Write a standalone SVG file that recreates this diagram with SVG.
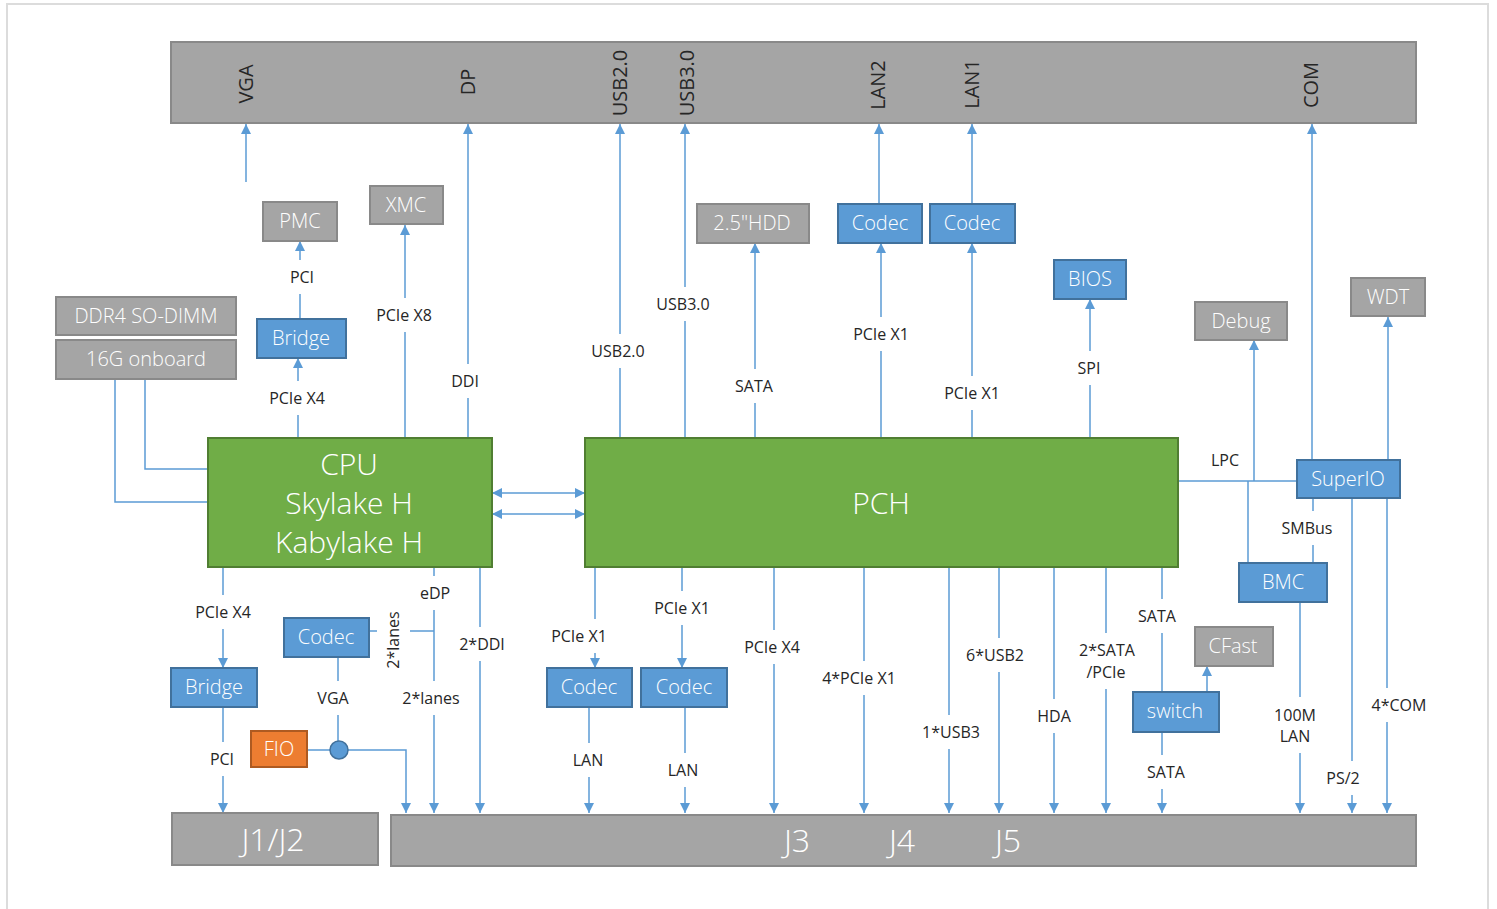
<svg xmlns="http://www.w3.org/2000/svg" width="1497" height="909" viewBox="0 0 1497 909">
<style>
.gray{fill:#a5a5a5;stroke:#898989;stroke-width:2}
.blue{fill:#5b9bd5;stroke:#41719c;stroke-width:2}
.green{fill:#70ad47;stroke:#507e32;stroke-width:2}
.orange{fill:#ed7d31;stroke:#ae5a21;stroke-width:2}
.bt{font-family:"Open Sans","Liberation Sans",sans-serif;font-weight:300;fill:#fff;text-anchor:middle;font-size:20px}
.big{font-size:30px}
.huge{font-size:32px}
.port{font-family:"Open Sans","Liberation Sans",sans-serif;font-size:20px;fill:#262626;text-anchor:middle}
.lbl{font-family:"Open Sans","Liberation Sans",sans-serif;font-size:16px;fill:#262626;text-anchor:middle}
.c{stroke:#5b9bd5;stroke-width:1.5;fill:none}
.a{marker-end:url(#ah)}
.bg{fill:#fff}
</style>
<defs>
<marker id="ah" viewBox="0 0 10 10" refX="10" refY="5" markerWidth="10" markerHeight="10" markerUnits="userSpaceOnUse" orient="auto-start-reverse"><path d="M0,0L10,5L0,10z" fill="#5b9bd5"/></marker>
</defs>
<rect x="7" y="4" width="1481" height="940" fill="none" stroke="#dcdcdc" stroke-width="2"/>

<g id="connectors">
<path class="c a" d="M246,182V124"/>
<path class="c a" d="M300,319V241"/>
<path class="c a" d="M298,438V358"/>
<path class="c a" d="M405,438V225"/>
<path class="c a" d="M468,438V124"/>
<path class="c" d="M115,379V502H208"/>
<path class="c" d="M145,379V469H208"/>
<path class="c a" d="M492,493H585" marker-start="url(#ah)"/>
<path class="c a" d="M492,514H585" marker-start="url(#ah)"/>
<path class="c a" d="M620,438V124"/>
<path class="c a" d="M685,438V124"/>
<path class="c a" d="M755,438V243"/>
<path class="c a" d="M881,438V243"/>
<path class="c a" d="M879,204V124"/>
<path class="c a" d="M972,438V243"/>
<path class="c a" d="M972,204V124"/>
<path class="c a" d="M1090,438V299"/>
<path class="c" d="M1178,481H1297"/>
<path class="c a" d="M1254,481V340"/>
<path class="c" d="M1248,481V563"/>
<path class="c a" d="M1312,460V124"/>
<path class="c a" d="M1388,460V317"/>
<path class="c" d="M1313,498V563"/>
<path class="c a" d="M1352,498V813"/>
<path class="c a" d="M1387,498V813"/>
<path class="c a" d="M1300,602V813"/>
<path class="c a" d="M223,567V668"/>
<path class="c a" d="M223,707V813"/>
<path class="c" d="M338,657V741"/>
<path class="c a" d="M307,750H406V813"/>
<path class="c" d="M369,631H434"/>
<path class="c a" d="M434,567V813"/>
<path class="c a" d="M480,567V813"/>
<path class="c a" d="M595,567V668"/>
<path class="c a" d="M682,567V668"/>
<path class="c a" d="M589,707V813"/>
<path class="c a" d="M685,707V813"/>
<path class="c a" d="M774,567V813"/>
<path class="c a" d="M864,567V813"/>
<path class="c a" d="M949,567V813"/>
<path class="c a" d="M999,567V813"/>
<path class="c a" d="M1054,567V813"/>
<path class="c a" d="M1106,567V813"/>
<path class="c" d="M1162,567V692"/>
<path class="c a" d="M1207,692V666"/>
<path class="c a" d="M1162,732V813"/>
<circle cx="339" cy="750" r="9" fill="#5b9bd5" stroke="#41719c" stroke-width="1.5"/>
</g>

<g id="labels">
<rect class="bg" x="286" y="260" width="32" height="34"/><text class="lbl" x="302" y="283">PCI</text>
<rect class="bg" x="267" y="381" width="60" height="34"/><text class="lbl" x="297" y="404">PCIe X4</text>
<rect class="bg" x="374" y="298" width="61" height="34"/><text class="lbl" x="404" y="321">PCIe X8</text>
<rect class="bg" x="449" y="364" width="32" height="34"/><text class="lbl" x="465" y="387">DDI</text>
<rect class="bg" x="590" y="334" width="56" height="34"/><text class="lbl" x="618" y="357">USB2.0</text>
<rect class="bg" x="655" y="287" width="56" height="34"/><text class="lbl" x="683" y="310">USB3.0</text>
<rect class="bg" x="733" y="369" width="42" height="34"/><text class="lbl" x="754" y="392">SATA</text>
<rect class="bg" x="851" y="317" width="60" height="34"/><text class="lbl" x="881" y="340">PCIe X1</text>
<rect class="bg" x="942" y="376" width="60" height="34"/><text class="lbl" x="972" y="399">PCIe X1</text>
<rect class="bg" x="1075" y="351" width="28" height="34"/><text class="lbl" x="1089" y="374">SPI</text>
<rect class="bg" x="1208" y="443" width="34" height="34"/><text class="lbl" x="1225" y="466">LPC</text>
<rect class="bg" x="1281" y="511" width="52" height="34"/><text class="lbl" x="1307" y="534">SMBus</text>
<rect class="bg" x="193" y="595" width="60" height="34"/><text class="lbl" x="223" y="618">PCIe X4</text>
<rect class="bg" x="206" y="742" width="32" height="34"/><text class="lbl" x="222" y="765">PCI</text>
<rect class="bg" x="316" y="681" width="34" height="34"/><text class="lbl" x="333" y="704">VGA</text>
<rect class="bg" x="417" y="576" width="36" height="34"/><text class="lbl" x="435" y="599">eDP</text>
<rect class="bg" x="403" y="681" width="56" height="34"/><text class="lbl" x="431" y="704">2*lanes</text>
<rect class="bg" x="459" y="627" width="46" height="34"/><text class="lbl" x="482" y="650">2*DDI</text>
<rect class="bg" x="549" y="619" width="60" height="34"/><text class="lbl" x="579" y="642">PCIe X1</text>
<rect class="bg" x="652" y="591" width="60" height="34"/><text class="lbl" x="682" y="614">PCIe X1</text>
<rect class="bg" x="572" y="743" width="32" height="34"/><text class="lbl" x="588" y="766">LAN</text>
<rect class="bg" x="667" y="753" width="32" height="34"/><text class="lbl" x="683" y="776">LAN</text>
<rect class="bg" x="742" y="630" width="60" height="34"/><text class="lbl" x="772" y="653">PCIe X4</text>
<rect class="bg" x="821" y="661" width="76" height="34"/><text class="lbl" x="859" y="684">4*PCIe X1</text>
<rect class="bg" x="923" y="715" width="56" height="34"/><text class="lbl" x="951" y="738">1*USB3</text>
<rect class="bg" x="967" y="638" width="56" height="34"/><text class="lbl" x="995" y="661">6*USB2</text>
<rect class="bg" x="1036" y="699" width="36" height="34"/><text class="lbl" x="1054" y="722">HDA</text>
<rect class="bg" x="1077" y="633" width="60" height="56"/><text class="lbl" x="1107" y="656">2*SATA</text><text class="lbl" x="1106" y="678">/PCIe</text>
<rect class="bg" x="1136" y="599" width="42" height="34"/><text class="lbl" x="1157" y="622">SATA</text>
<rect class="bg" x="1145" y="755" width="42" height="34"/><text class="lbl" x="1166" y="778">SATA</text>
<rect class="bg" x="1271" y="697" width="48" height="56"/><text class="lbl" x="1295" y="721">100M</text><text class="lbl" x="1295" y="742">LAN</text>
<rect class="bg" x="1325" y="761" width="36" height="34"/><text class="lbl" x="1343" y="784">PS/2</text>
<rect class="bg" x="1376" y="688" width="46" height="34"/><text class="lbl" x="1399" y="711">4*COM</text>
<rect class="bg" x="377" y="612" width="33" height="56"/><text class="lbl" transform="translate(399,640) rotate(-90)">2*lanes</text>
</g>

<g id="io-top"><rect class="gray" x="171" y="42" width="1245" height="81"/>
<text class="port" transform="translate(253,84) rotate(-90)">VGA</text>
<text class="port" transform="translate(475,82) rotate(-90)">DP</text>
<text class="port" transform="translate(627,83) rotate(-90)">USB2.0</text>
<text class="port" transform="translate(694,83) rotate(-90)">USB3.0</text>
<text class="port" transform="translate(885,85) rotate(-90)">LAN2</text>
<text class="port" transform="translate(979,84) rotate(-90)">LAN1</text>
<text class="port" transform="translate(1318,85) rotate(-90)">COM</text>
</g>
<g id="pmc"><rect class="gray" x="263" y="202" width="74" height="39"/><text class="bt" x="300" y="228">PMC</text></g>
<g id="xmc"><rect class="gray" x="370" y="186" width="73" height="38"/><text class="bt" x="406" y="212">XMC</text></g>
<g id="ddr4"><rect class="gray" x="56" y="297" width="180" height="38"/><text class="bt" x="146" y="323">DDR4 SO-DIMM</text></g>
<g id="onboard"><rect class="gray" x="56" y="340" width="180" height="39"/><text class="bt" x="146" y="366">16G onboard</text></g>
<g id="bridge-top"><rect class="blue" x="257" y="319" width="89" height="39"/><text class="bt" x="301" y="345">Bridge</text></g>
<g id="hdd"><rect class="gray" x="697" y="204" width="112" height="39"/><text class="bt" x="752" y="230">2.5"HDD</text></g>
<g id="codec-lan2"><rect class="blue" x="838" y="204" width="84" height="39"/><text class="bt" x="880" y="230">Codec</text></g>
<g id="codec-lan1"><rect class="blue" x="930" y="204" width="85" height="39"/><text class="bt" x="972" y="230">Codec</text></g>
<g id="bios"><rect class="blue" x="1054" y="260" width="72" height="39"/><text class="bt" x="1090" y="286">BIOS</text></g>
<g id="debug"><rect class="gray" x="1195" y="302" width="92" height="38"/><text class="bt" x="1241" y="328">Debug</text></g>
<g id="wdt"><rect class="gray" x="1351" y="278" width="74" height="38"/><text class="bt" x="1388" y="304">WDT</text></g>
<g id="cpu"><rect class="green" x="208" y="438" width="284" height="129"/>
<text class="bt big" x="349" y="475">CPU</text><text class="bt big" x="349" y="514">Skylake H</text><text class="bt big" x="349" y="553">Kabylake H</text></g>
<g id="pch"><rect class="green" x="585" y="438" width="593" height="129"/><text class="bt big" x="881" y="514">PCH</text></g>
<g id="superio"><rect class="blue" x="1297" y="460" width="103" height="38"/><text class="bt" x="1348" y="486">SuperIO</text></g>
<g id="bmc"><rect class="blue" x="1239" y="563" width="88" height="39"/><text class="bt" x="1283" y="589">BMC</text></g>
<g id="codec-vga"><rect class="blue" x="284" y="618" width="85" height="39"/><text class="bt" x="326" y="644">Codec</text></g>
<g id="bridge-bottom"><rect class="blue" x="171" y="668" width="86" height="39"/><text class="bt" x="214" y="694">Bridge</text></g>
<g id="fio"><rect class="orange" x="251" y="731" width="56" height="36"/><text class="bt" x="279" y="756" font-size="18">FIO</text></g>
<g id="codec-1"><rect class="blue" x="547" y="668" width="85" height="39"/><text class="bt" x="589" y="694">Codec</text></g>
<g id="codec-2"><rect class="blue" x="641" y="668" width="86" height="39"/><text class="bt" x="684" y="694">Codec</text></g>
<g id="cfast"><rect class="gray" x="1195" y="627" width="78" height="39"/><text class="bt" x="1233" y="653">CFast</text></g>
<g id="switch"><rect class="blue" x="1133" y="692" width="86" height="40"/><text class="bt" x="1175" y="718">switch</text></g>
<g id="j1j2"><rect class="gray" x="172" y="813" width="206" height="52"/><text class="bt huge" x="273" y="851">J1/J2</text></g>
<g id="j3j4j5"><rect class="gray" x="391" y="815" width="1025" height="51"/>
<text class="bt huge" x="797" y="852">J3</text><text class="bt huge" x="902" y="852">J4</text><text class="bt huge" x="1008" y="852">J5</text></g>
</svg>
